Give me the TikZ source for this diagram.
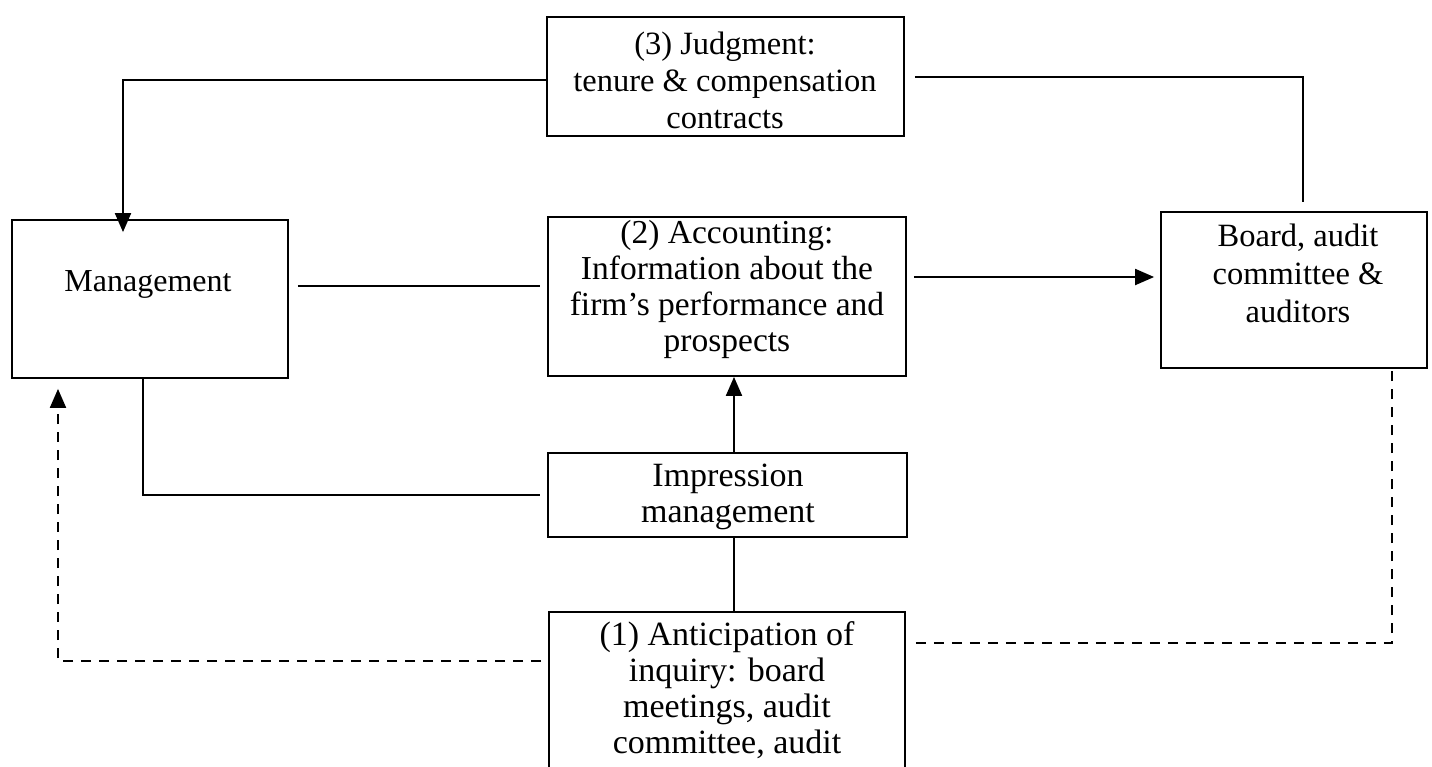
\documentclass[tikz,border=0pt]{standalone}
\usepackage{fontspec}
\setmainfont{Liberation Serif}
\usetikzlibrary{arrows.meta}
\begin{document}
\begin{tikzpicture}[x=1pt,y=-1pt,
  box/.style={draw,line width=1.8pt,rectangle,inner sep=0pt},
  txt/.style={align=center,inner sep=0pt,font=\fontsize{32}{36}\selectfont},
  conn/.style={line width=2pt},
  arr/.style={conn,-{Triangle[length=19pt,width=16pt]}},
  dconn/.style={conn,dash pattern=on 10pt off 8pt},
  darr/.style={dconn,-{Triangle[length=19pt,width=16pt]}}]
\useasboundingbox (0,0) rectangle (1432,766);
\clip (0,0) rectangle (1432,766);
% boxes
\node[box,minimum width=357pt,minimum height=119pt] (judg) at (725.5,76.5) {};
\node[box,minimum width=276pt,minimum height=158pt] (mgmt) at (150,299) {};
\node[box,minimum width=358pt,minimum height=159pt] (acct) at (727,296.5) {};
\node[box,minimum width=266pt,minimum height=156pt] (board) at (1294,290) {};
\node[box,minimum width=359pt,minimum height=84pt] (impr) at (727.5,495) {};
\node[box,minimum width=356pt,minimum height=200pt] (antic) at (727,712) {};
% labels
\node[txt,font=\fontsize{32.5}{37}\selectfont] (judgt) at (725,80) {(3) Judgment:\\tenure \& compensation\\contracts};
\node[txt] (mgmtt) at (148,284) {Management};
\node[txt,font=\fontsize{33.5}{36}\selectfont] (acctt) at (727,289) {(2) Accounting:\\Information about the\\firm’s performance and\\prospects};
\node[txt,font=\fontsize{32.5}{38}\selectfont] (boardt) at (1298,273) {Board, audit\\committee \&\\auditors};
\node[txt,font=\fontsize{34}{36}\selectfont] (imprt) at (728,497) {Impression\\management};
\node[txt,font=\fontsize{34}{36}\selectfont] (antict) at (727,690) {(1) Anticipation of\\inquiry: board\\meetings, audit\\committee, audit};
% connectors
\coordinate (jl) at (123,80);
\coordinate (jr) at (1303,77);
\coordinate (ar) at (0,277);
\draw[arr] ([yshift=-3.5pt]judg.west) -- (jl) -- ([yshift=-13pt]mgmt.north -| jl);
\draw[conn] ([xshift=10pt,yshift=-0.5pt]judg.east) -- (jr) -- ([yshift=9pt]board.north -| jr);
\draw[conn] ([xshift=9pt,yshift=13pt]mgmt.east) -- ([xshift=-7pt,yshift=10.5pt]acct.west);
\draw[arr] ([xshift=7pt]acct.east |- ar) -- ([xshift=-6pt]board.west |- ar);
\coordinate (ml) at (143,495);
\draw[conn] (mgmt.south -| ml) -- (ml) -- ([xshift=-7pt]impr.west |- ml);
\coordinate (vx) at (734,0);
\draw[arr] (impr.north -| vx) -- (acct.south -| vx);
\draw[conn] (antic.north -| vx) -- (impr.south -| vx);
\coordinate (dl) at (58,661);
\coordinate (dr) at (1392,643);
\draw[darr] ([xshift=-7pt]antic.west |- dl) -- (dl) -- ([yshift=-10pt]mgmt.south -| dl);
\draw[dconn] ([xshift=10pt]antic.east |- dr) -- (dr) -- (board.south -| dr);
\end{tikzpicture}
\end{document}
